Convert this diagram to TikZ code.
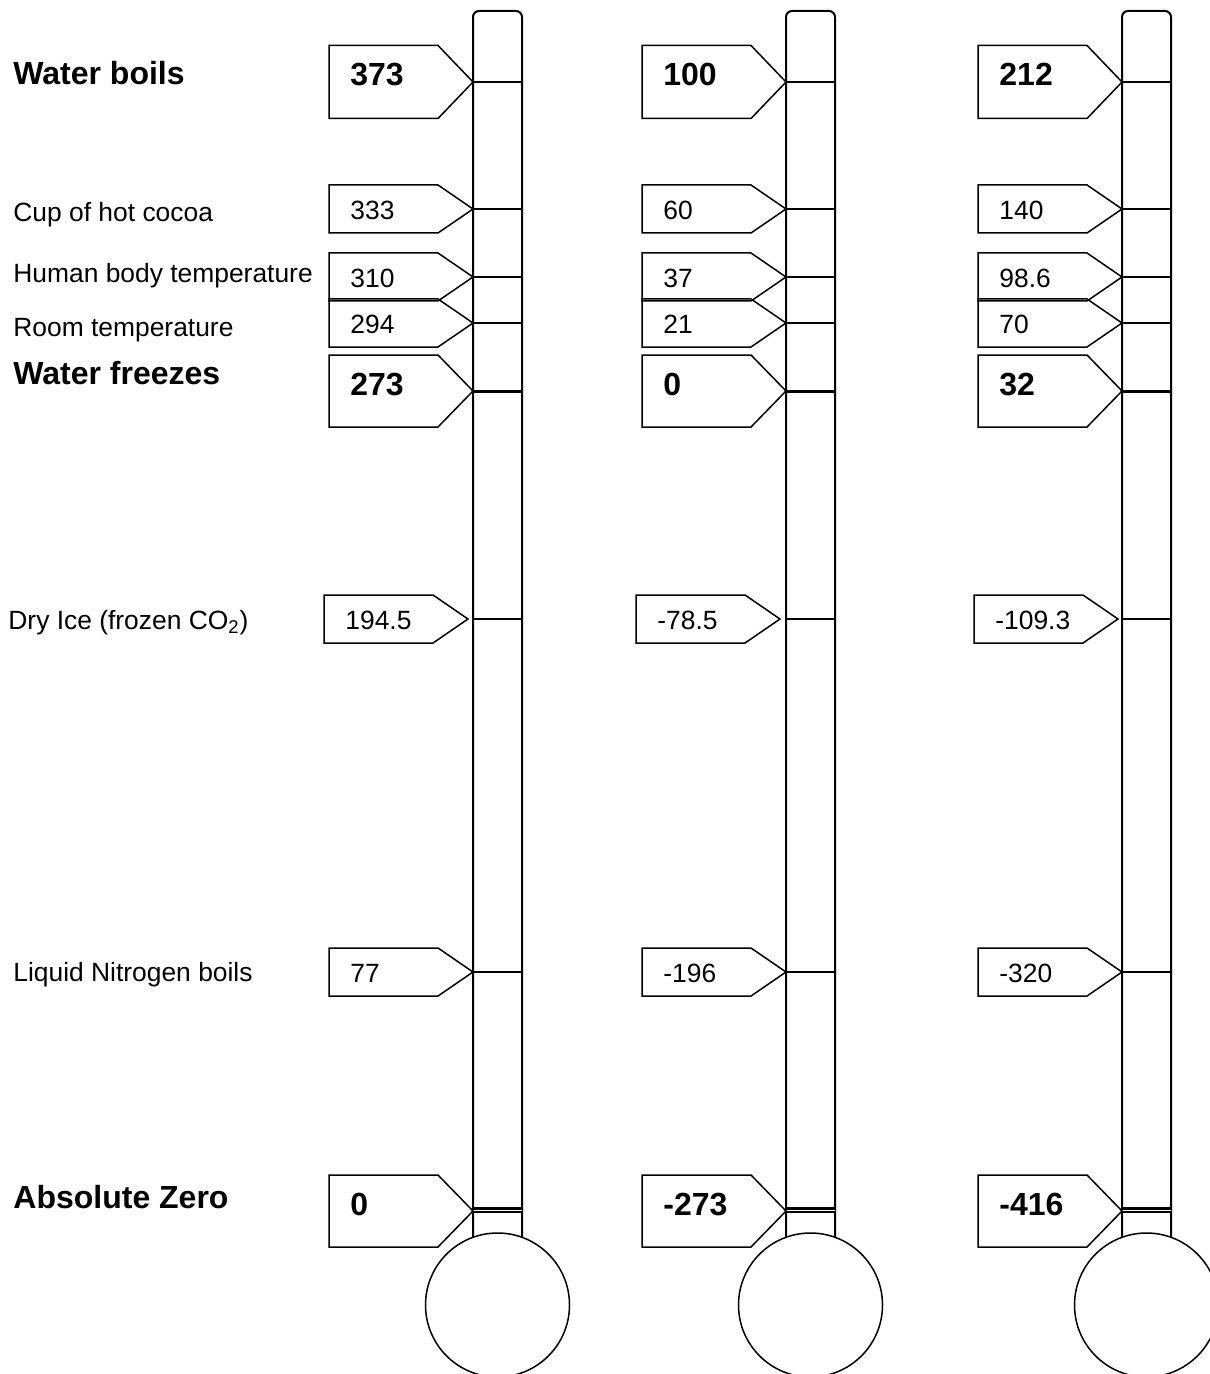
\documentclass[tikz,border=0pt]{standalone}
\usepackage{fontspec}
\setmainfont{Liberation Sans}
\usetikzlibrary{positioning}

% value tag: name, tip x, tip y, half height, text
\newcommand{\valbox}[5]{%
  \draw[boxline] (#2,#3) -- (#2-35,#3-#4) -- (#2-144,#3-#4) -- (#2-144,#3+#4) -- (#2-35,#3+#4) -- cycle;
  \node[anchor=base west, inner sep=0pt] (#1) at (#2-123,{#3+ifthenelse(#4>30,4,10.5)}) {#5};
}
% thermometer: name, left edge of tube
\newcommand{\thermo}[2]{%
  \draw[tube] (#2,1300) -- (#2,11) -- (#2+49,11) -- (#2+49,1300);
  \foreach \ty in {82,209,277,323,619,972} \draw[tick] (#2,\ty) -- (#2+49,\ty);
  \draw[tick, line width=1.5pt] (#2,391) -- (#2+49,391);
  \draw[tick, line width=1.1pt, double, double distance=0.5pt] (#2,1210) -- (#2+49,1210);
  \node[bulb] (#1) at (#2+24.5,1305) {};
}
\newcommand{\bigtxt}{\fontsize{16}{18}\selectfont\bfseries}
\newcommand{\smalltxt}{\fontsize{13.2}{15}\selectfont}

\begin{document}
\begin{tikzpicture}[
    x=0.5pt, y=-0.5pt,
    boxline/.style={draw, line width=0.75pt, line join=miter},
    tube/.style={draw, line width=1pt, rounded corners=3pt},
    tick/.style={draw, line width=0.75pt},
    bulb/.style={circle, draw, fill=white, line width=0.75pt, minimum size=72pt, inner sep=0pt},
    lbl/.style={anchor=base west, inner sep=0pt, font=\smalltxt},
    big/.style={font=\bigtxt}
]
    \useasboundingbox (0,0) rectangle (1209,1374);

    % thermometers
    \thermo{kelvin}{473}
    \thermo{celsius}{786}
    \thermo{fahrenheit}{1122}

    % left labels
    \node[lbl, big] (boils) at (13,85) {Water boils};
    \node[lbl] (cocoa) at (13,222) {Cup of hot cocoa};
    \node[lbl] (body) at (13,283) {Human body temperature};
    \node[lbl] (room) at (13,336) {Room temperature};
    \node[lbl, big] (freezes) at (13,384) {Water freezes};
    \node[lbl] (dryice) at (8,629) {Dry Ice (frozen CO\textsubscript{2})};
    \node[lbl] (nitrogen) at (13,981) {Liquid Nitrogen boils};
    \node[lbl, big] (abszero) at (13,1208) {Absolute Zero};

    % Kelvin
    \valbox{kboils}{473}{82}{36.5}{\bigtxt 373}
    \valbox{kcocoa}{473}{209}{24}{\smalltxt 333}
    \valbox{kbody}{473}{277}{24}{\smalltxt 310}
    \valbox{kroom}{473}{323}{24}{\smalltxt 294}
    \valbox{kfreezes}{473}{391}{36}{\bigtxt 273}
    \valbox{kdryice}{468}{619}{24}{\smalltxt 194.5}
    \valbox{knitrogen}{473}{972}{24}{\smalltxt 77}
    \valbox{kabszero}{473}{1211}{36}{\bigtxt 0}

    % Celsius
    \valbox{cboils}{786}{82}{36.5}{\bigtxt 100}
    \valbox{ccocoa}{786}{209}{24}{\smalltxt 60}
    \valbox{cbody}{786}{277}{24}{\smalltxt 37}
    \valbox{croom}{786}{323}{24}{\smalltxt 21}
    \valbox{cfreezes}{786}{391}{36}{\bigtxt 0}
    \valbox{cdryice}{780}{619}{24}{\smalltxt -78.5}
    \valbox{cnitrogen}{786}{972}{24}{\smalltxt -196}
    \valbox{cabszero}{786}{1211}{36}{\bigtxt -273}

    % Fahrenheit
    \valbox{fboils}{1122}{82}{36.5}{\bigtxt 212}
    \valbox{fcocoa}{1122}{209}{24}{\smalltxt 140}
    \valbox{fbody}{1122}{277}{24}{\smalltxt 98.6}
    \valbox{froom}{1122}{323}{24}{\smalltxt 70}
    \valbox{ffreezes}{1122}{391}{36}{\bigtxt 32}
    \valbox{fdryice}{1118}{619}{24}{\smalltxt -109.3}
    \valbox{fnitrogen}{1122}{972}{24}{\smalltxt -320}
    \valbox{fabszero}{1122}{1211}{36}{\bigtxt -416}
\end{tikzpicture}
\end{document}
